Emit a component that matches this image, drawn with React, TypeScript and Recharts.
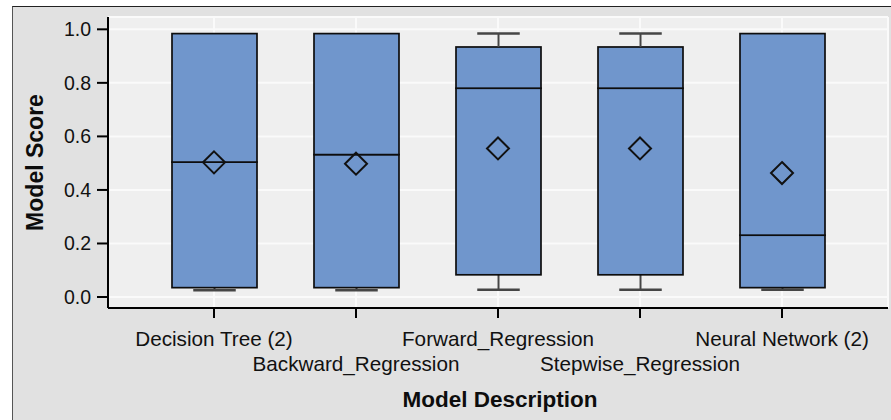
import React from 'react'
import {
  ComposedChart,
  Bar,
  Line,
  XAxis,
  YAxis,
  CartesianGrid,
  Label,
} from 'recharts'

// ── Values ────────────────────────────────────────────────────────────────────

const CATEGORIES = [
  'Decision Tree (2)',
  'Backward_Regression',
  'Forward_Regression',
  'Stepwise_Regression',
  'Neural Network (2)',
]
const MIN_VALS    = [0.025, 0.025, 0.027, 0.027, 0.027]
const Q1_VALS     = [0.035, 0.035, 0.083, 0.083, 0.035]
const MEDIAN_VALS = [0.504, 0.532, 0.780, 0.780, 0.231]
const Q3_VALS     = [0.984, 0.984, 0.934, 0.934, 0.984]
const MAX_VALS    = [0.984, 0.984, 0.984, 0.984, 0.984]
const MEAN_VALS   = [0.503, 0.498, 0.555, 0.555, 0.463]
const Y_TICKS     = [0, 0.2, 0.4, 0.6, 0.8, 1.0]

// stacked segments: invisible base, lower whisker, lower box, upper box, upper whisker
const data = CATEGORIES.map((name, i) => ({
  name,
  base: MIN_VALS[i],
  wLow: Q1_VALS[i] - MIN_VALS[i],
  boxLow: MEDIAN_VALS[i] - Q1_VALS[i],
  boxHigh: Q3_VALS[i] - MEDIAN_VALS[i],
  wHigh: MAX_VALS[i] - Q3_VALS[i],
  mean: MEAN_VALS[i],
}))

// ─────────────────────────────────────────────────────────────────────────────

const FONT = '"Liberation Sans", Arial, sans-serif'
const BOX_FILL = '#7096cc'
const WHISKER = '#454545'

const BoxShape = (props: any) => {
  const { x, y, width, height } = props
  return (
    <rect x={x} y={y} width={width} height={height} fill={BOX_FILL} stroke="#0d0d0d" strokeWidth={1.7} />
  )
}

const makeWhisker = (capAtTop: boolean) => (props: any) => {
  const { x, y, width, height } = props
  if (!(height > 0.3)) return <g />
  const cx = x + width / 2
  const capY = capAtTop ? y : y + height
  const half = width / 4
  return (
    <g>
      <line x1={cx} x2={cx} y1={y} y2={y + height} stroke={WHISKER} strokeWidth={2} />
      <line x1={cx - half} x2={cx + half} y1={capY} y2={capY} stroke={WHISKER} strokeWidth={2.5} />
    </g>
  )
}

const LowWhisker = makeWhisker(false)
const HighWhisker = makeWhisker(true)

const Diamond = (props: any) => {
  const { cx, cy } = props
  if (cx == null || cy == null) return <g />
  const r = 11
  return (
    <path
      d={`M${cx},${cy - r}L${cx + r},${cy}L${cx},${cy + r}L${cx - r},${cy}Z`}
      fill="none"
      stroke="#111"
      strokeWidth={2}
    />
  )
}

const XTick = (props: any) => {
  const { x, y, payload, index } = props
  // labels alternate between two rows
  const dy = index % 2 === 1 ? 52.7 : 28
  return (
    <text x={x} y={y + dy} textAnchor="middle" fontSize={20.7} fontFamily={FONT} fill="#111">
      {payload.value}
    </text>
  )
}

const YTitle = (props: any) => {
  const { x, y, height } = props.viewBox
  const tx = x + 43
  const ty = y + height / 2
  return (
    <text
      x={tx}
      y={ty}
      transform={`rotate(-90, ${tx}, ${ty})`}
      textAnchor="middle"
      fontSize={23}
      fontWeight="bold"
      fontFamily={FONT}
      fill="#0d0d0d"
    >
      Model Score
    </text>
  )
}

const XTitle = (props: any) => {
  const { x, y, width, height } = props.viewBox
  return (
    <text
      x={x + width / 2 + 2}
      y={y + height - 12.7}
      textAnchor="middle"
      fontSize={22.5}
      fontWeight="bold"
      fontFamily={FONT}
      fill="#0d0d0d"
    >
      Model Description
    </text>
  )
}

export default function App() {
  return (
    <div style={{ position: 'absolute', left: 0, top: 0, width: 891, height: 420, overflow: 'hidden', background: '#fff' }}>
      <div
        style={{
          position: 'absolute',
          left: 12,
          top: 6,
          width: 900,
          height: 430,
          background: '#e1e1e1',
          borderTop: '1.5px solid #222',
          borderLeft: '1.5px solid #555',
        }}
      />
      <div style={{ position: 'absolute', left: 0, top: 0 }}>
        <ComposedChart
          width={891}
          height={420}
          data={data}
          margin={{ top: 17, right: 3, left: 0, bottom: 0 }}
          barSize={85}
        >
          <CartesianGrid fill="#efefef" stroke="#fafafa" strokeWidth={2} />
          <XAxis
            dataKey="name"
            height={112}
            padding={{ left: 35, right: 35 }}
            tick={<XTick />}
            interval={0}
            tickSize={10}
            tickMargin={0}
            axisLine={{ stroke: '#000', strokeWidth: 2 }}
            tickLine={{ stroke: '#000', strokeWidth: 2 }}
            label={<Label content={XTitle} />}
          />
          <XAxis
            xAxisId="top"
            orientation="top"
            dataKey="name"
            height={0}
            padding={{ left: 35, right: 35 }}
            tick={false}
            tickLine={false}
            axisLine={{ stroke: '#333', strokeWidth: 2 }}
          />
          <YAxis
            type="number"
            domain={[-0.041, 1.046]}
            ticks={Y_TICKS}
            allowDataOverflow
            width={108}
            tickSize={11}
            tickMargin={6}
            tickFormatter={(v: number) => v.toFixed(1)}
            tick={{ fontSize: 19.5, fontFamily: FONT, fill: '#111' }}
            axisLine={{ stroke: '#000', strokeWidth: 2 }}
            tickLine={{ stroke: '#000', strokeWidth: 2 }}
            label={<Label content={YTitle} />}
          />
          <YAxis
            yAxisId="right"
            orientation="right"
            type="number"
            domain={[-0.041, 1.046]}
            width={0}
            tick={false}
            tickLine={false}
            axisLine={{ stroke: '#444', strokeWidth: 2 }}
          />
          <Bar dataKey="base" stackId="box" fill="none" isAnimationActive={false} />
          <Bar dataKey="wLow" stackId="box" shape={LowWhisker} isAnimationActive={false} />
          <Bar dataKey="boxLow" stackId="box" shape={BoxShape} isAnimationActive={false} />
          <Bar dataKey="boxHigh" stackId="box" shape={BoxShape} isAnimationActive={false} />
          <Bar dataKey="wHigh" stackId="box" shape={HighWhisker} isAnimationActive={false} />
          <Line
            dataKey="mean"
            stroke="none"
            dot={<Diamond />}
            activeDot={false}
            legendType="none"
            isAnimationActive={false}
          />
        </ComposedChart>
      </div>
    </div>
  )
}
